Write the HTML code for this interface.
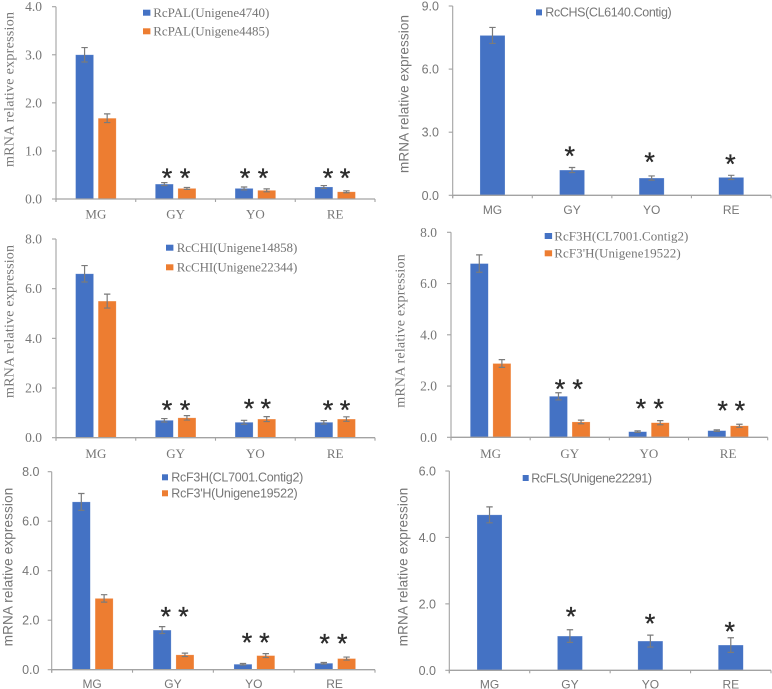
<!DOCTYPE html>
<html lang="en">
<head>
<meta charset="utf-8">
<title>mRNA relative expression panels</title>
<style>
html,body{margin:0;padding:0;background:#fff;}
#figure{display:block;width:772px;height:689px;filter:blur(0.35px);}
.serif{font-family:"Liberation Serif",serif;}
.sans{font-family:"Liberation Sans",sans-serif;}
text{fill:#767676;}
text.star{fill:#2b2b2b;stroke:#2b2b2b;stroke-width:0.35;font-family:"Liberation Sans",sans-serif;font-size:27px;text-anchor:middle;}
</style>
</head>
<body>
<svg id="figure" xmlns="http://www.w3.org/2000/svg" width="772" height="689" viewBox="0 0 772 689"></svg>
<script>
const categories = ["MG", "GY", "YO", "RE"];

const palBlue = [3.0, 0.31, 0.22, 0.25];
const palBlueErr = [0.15, 0.03, 0.03, 0.03];
const palOrange = [1.68, 0.22, 0.18, 0.15];
const palOrangeErr = [0.09, 0.02, 0.03, 0.02];
const palTicks = ["0.0", "1.0", "2.0", "3.0", "4.0"];
const palStars = [0.51, 0.51, 0.51];

const chsBlue = [7.6, 1.2, 0.82, 0.85];
const chsBlueErr = [0.38, 0.12, 0.1, 0.1];
const chsTicks = ["0.0", "3.0", "6.0", "9.0"];
const chsStars = [2.03, 1.74, 1.66];

const chiBlue = [6.6, 0.7, 0.62, 0.62];
const chiBlueErr = [0.33, 0.07, 0.08, 0.07];
const chiOrange = [5.5, 0.8, 0.75, 0.75];
const chiOrangeErr = [0.28, 0.09, 0.1, 0.09];
const chiTicks = ["0.0", "2.0", "4.0", "6.0", "8.0"];
const chiStars = [1.25, 1.32, 1.25];

const f3hBlue = [6.78, 1.6, 0.22, 0.26];
const f3hBlueErr = [0.34, 0.14, 0.03, 0.03];
const f3hOrange = [2.88, 0.6, 0.57, 0.45];
const f3hOrangeErr = [0.15, 0.07, 0.08, 0.06];
const f3hTicks = ["0.0", "2.0", "4.0", "6.0", "8.0"];
const f3hStars = [2.03, 1.26, 1.18];
const f3hStarsB = [2.29, 1.25, 1.2];

const flsBlue = [4.68, 1.03, 0.88, 0.76];
const flsBlueErr = [0.24, 0.19, 0.18, 0.22];
const flsTicks = ["0.0", "2.0", "4.0", "6.0"];
const flsStars = [1.73, 1.51, 1.28];

const BLUE = "#4472c4", ORANGE = "#ed7d31", AXIS = "#a3a3a3", ERR = "#7b7b7b";

const panels = [
  {id:"pal", font:"serif", left:56, right:375, base:199, top:6.7, ticks:palTicks, tickRight:42, catY:214, titleX:9, titleMid:89.5, titleLen:155,
   barW:18, off:11.3, shift:0, series:[[palBlue,palBlueErr,BLUE],[palOrange,palOrangeErr,ORANGE]], stars:palStars,
   starDx:[[-8.6,9.4],[-10.4,7.6],[-7.1,9.9]],
   legend:[["RcPAL(Unigene4740)",143,153.3,12.7,116,BLUE],["RcPAL(Unigene4485)",143,153.3,31.3,116,ORANGE]]},
  {id:"chs", font:"sans", left:452.7, right:771, base:195.3, top:6, ticks:chsTicks, tickRight:439, catY:209.5, titleX:404, titleMid:94, titleLen:158,
   barW:25, off:0, shift:0, series:[[chsBlue,chsBlueErr,BLUE]], stars:chsStars,
   starDx:[[-2.3],[-2],[-0.8]],
   legend:[["RcCHS(CL6140.Contig)",536,545.3,12.4,126.4,BLUE]]},
  {id:"chi", font:"serif", left:56, right:375, base:437.7, top:239, ticks:chiTicks, tickRight:42, catY:453.7, titleX:9, titleMid:321.5, titleLen:153,
   barW:18, off:11.3, shift:0, series:[[chiBlue,chiBlueErr,BLUE],[chiOrange,chiOrangeErr,ORANGE]], stars:chiStars,
   starDx:[[-8.6,9.4],[-6.4,10.4],[-7.1,9.9]],
   legend:[["RcCHI(Unigene14858)",166,176.7,247.7,120.6,BLUE],["RcCHI(Unigene22344)",166,176.7,267.3,120.6,ORANGE]]},
  {id:"f3h-a", font:"serif", left:451, right:767.7, base:437.3, top:232.3, ticks:f3hTicks, tickRight:437, catY:453.3, titleX:400, titleMid:331, titleLen:153.5,
   barW:18, off:11.3, shift:0, series:[[f3hBlue,f3hBlueErr,BLUE],[f3hOrange,f3hOrangeErr,ORANGE]], stars:f3hStars,
   starDx:[[-9.8,7.9],[-8,9.7],[-5.5,11.8]],
   legend:[["RcF3H(CL7001.Contig2)",544.7,554.3,236,134,BLUE],["RcF3'H(Unigene19522)",544.7,554.3,253.3,126.4,ORANGE]]},
  {id:"f3h-b", font:"sans", left:51.7, right:375, base:669.7, top:471.7, ticks:f3hTicks, tickRight:39.5, catY:683.3, titleX:8, titleMid:567, titleLen:158.5,
   barW:18, off:11.4, shift:0.6, series:[[f3hBlue,f3hBlueErr,BLUE],[f3hOrange,f3hOrangeErr,ORANGE]], stars:f3hStarsB,
   starDx:[[-7.2,10.4],[-6.7,10.6],[-9.9,7.7]],
   legend:[["RcF3H(CL7001.Contig2)",162,171.3,477.3,132,BLUE],["RcF3'H(Unigene19522)",162,171.3,493.3,126.4,ORANGE]]},
  {id:"fls", font:"sans", left:449.3, right:771, base:670.3, top:471, ticks:flsTicks, tickRight:436, catY:684, titleX:403, titleMid:567, titleLen:158.5,
   barW:25, off:0, shift:0, series:[[flsBlue,flsBlueErr,BLUE]], stars:flsStars,
   starDx:[[1.1],[-0.3],[-1]],
   legend:[["RcFLS(Unigene22291)",522.7,531.3,478,120.7,BLUE]]}
];

const svg = document.getElementById("figure");
const NS = "http://www.w3.org/2000/svg";

function make(tag, attrs, parent, txt) {
  const node = document.createElementNS(NS, tag);
  for (const k in attrs) node.setAttribute(k, attrs[k]);
  if (txt !== undefined) node.textContent = txt;
  parent.appendChild(node);
  return node;
}

panels.forEach(function (p) {
  const g = make("g", {"class": p.font}, svg);
  
  

  const maxVal = parseFloat(p.ticks[p.ticks.length - 1]);
  const yScale = function (v) { return p.base - (v / maxVal) * (p.base - p.top); };
  const catW = (p.right - p.left) / categories.length;
  const xScale = function (i) { return p.left + (i + 0.5) * catW; };

  // y axis
  const yAxis = make("line", {x1:p.left, x2:p.left, y1:p.top, y2:p.base + 3, stroke:AXIS, "stroke-width":1.1}, g);
  
  

  p.ticks.forEach(function (t) {
    const y = yScale(parseFloat(t));
    const tick = make("line", {x1:p.left - 4, x2:p.left, y1:y, y2:y, stroke:AXIS, "stroke-width":1.1}, g);
    
    
    const lab = make("text", {x:p.tickRight, y:y + 4.5, "text-anchor":"end", "font-size":p.font === "serif" ? 13.5 : 12.5}, g, t);
    
    
  });

  // y title
  const title = make("text", {
    transform:"translate(" + (p.titleX + 4.5) + "," + p.titleMid + ") rotate(-90)",
    "text-anchor":"middle", "font-size":p.font === "serif" ? 14 : 13.5,
    textLength:p.titleLen, lengthAdjust:"spacing"
  }, g, "mRNA relative expression");
  
  

  // bars and error bars
  p.series.forEach(function (s, si) {
    const vals = s[0], errs = s[1], color = s[2];
    const n = p.series.length;
    const off = n === 1 ? 0 : (si === 0 ? -p.off : p.off);
    vals.forEach(function (v, i) {
      const cx = xScale(i) + off + p.shift;
      const yTop = yScale(v);
      const bar = make("rect", {x:cx - p.barW / 2, y:yTop, width:p.barW, height:p.base - yTop, fill:color, stroke:"#fff", "stroke-opacity":0.35, "stroke-width":0.6}, g);
      
      
      const hi = yScale(v + errs[i]), lo = yScale(v - errs[i]);
      const eb = make("path", {
        d:"M" + cx + " " + hi + "V" + lo + "M" + (cx - 3.2) + " " + hi + "H" + (cx + 3.2) + "M" + (cx - 3.2) + " " + lo + "H" + (cx + 3.2),
        fill:"none", stroke:ERR, "stroke-width":1.2
      }, g);
      
      
    });
  });

  // x axis
  const xAxis = make("line", {x1:p.left, x2:p.right, y1:p.base, y2:p.base, stroke:AXIS, "stroke-width":1.3}, g);
  
  

  for (let i = 0; i <= categories.length; i++) {
    const x = p.left + i * catW;
    const tick = make("line", {x1:x, x2:x, y1:p.base, y2:p.base + 3, stroke:AXIS, "stroke-width":1.1}, g);
    
    
  }

  categories.forEach(function (c, i) {
    const lab = make("text", {x:xScale(i), y:p.catY + 4.5, "text-anchor":"middle", "font-size":p.font === "serif" ? 13 : 12}, g, c);
    
    
  });

  // significance stars
  p.stars.forEach(function (level, k) {
    p.starDx[k].forEach(function (dx) {
      const star = make("text", {"class":"star", x:xScale(k + 1) + dx, y:yScale(level) + 12.5}, g, "*");
      
      
    });
  });

  // legend
  p.legend.forEach(function (l) {
    const sw = make("rect", {x:l[1], y:l[3] - 3, width:l[2] - l[1] > 9.5 ? 7.4 : 6, height:6, fill:l[5]}, g);
    
    
    const t = make("text", {x:l[2], y:l[3] + 4.3, "font-size":p.font === "serif" ? 13 : 12.5, textLength:l[4], lengthAdjust:"spacing"}, g, l[0]);
    
    
  });
});
</script>
</body>
</html>
